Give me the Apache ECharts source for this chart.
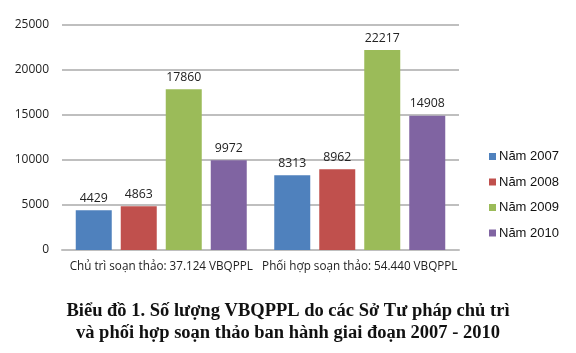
<!DOCTYPE html>
<html><head><meta charset="utf-8">
<script src="https://cdn.jsdelivr.net/npm/echarts@6/dist/echarts.min.js"></script>
<style>html,body{margin:0;padding:0;background:#fff}#c{width:576px;height:353px}</style>
</head><body><div id="c"></div>
<script>
const categories = ["Chủ trì soạn thảo: 37.124 VBQPPL", "Phối hợp soạn thảo: 54.440 VBQPPL"];
const seriesNames = ["Năm 2007", "Năm 2008", "Năm 2009", "Năm 2010"];
const v2007 = [4429, 8313];
const v2008 = [4863, 8962];
const v2009 = [17860, 22217];
const v2010 = [9972, 14908];
const yTicks = [0, 5000, 10000, 15000, 20000, 25000];
const titleLines = ["Biểu đồ 1. Số lượng VBQPPL do các Sở Tư pháp chủ trì", "và phối hợp soạn thảo ban hành giai đoạn 2007 - 2010"];

const colors = ["#4F81BD", "#C0504D", "#9BBB59", "#8064A2"];
const allValues = [v2007, v2008, v2009, v2010];
const chart = echarts.init(document.getElementById('c'));
const lbl = {show: true, position: 'top', distance: 6, color: '#222', fontFamily: 'Open Sans', fontSize: 12.3};
chart.setOption({
  animation: false,
  backgroundColor: '#fff',
  color: colors,
  title: {
    text: titleLines.join('\n'), left: 'center', top: 295,
    textStyle: {fontFamily: 'Liberation Serif', fontWeight: 'bold', fontSize: 18.5, lineHeight: 22, color: '#111'}
  },
  legend: {
    orient: 'vertical', left: 484, top: 145, itemWidth: 7, itemHeight: 7, itemGap: 12.5,
    icon: 'rect', data: seriesNames,
    textStyle: {fontFamily: 'Liberation Sans', fontSize: 13, color: '#111', padding: [0,0,0,-2]}
  },
  grid: {left: 62, right: 117, top: 25, bottom: 103},
  xAxis: {
    type: 'category', data: categories,
    axisLine: {lineStyle: {color: '#BFBFBF', width: 2}}, axisTick: {show: false},
    axisLabel: {interval: 0, hideOverlap: false, fontFamily: 'Open Sans', fontSize: 11.7, color: '#222', margin: 11}
  },
  yAxis: {
    type: 'value', min: yTicks[0], max: yTicks[yTicks.length-1], interval: 5000,
    axisLine: {show: false}, axisTick: {show: false},
    axisLabel: {formatter: v => String(v), fontFamily: 'Open Sans', fontSize: 12, color: '#222', margin: 13},
    splitLine: {lineStyle: {color: '#BFBFBF', width: 2}}
  },
  series: seriesNames.map((n, i) => ({
    name: n, type: 'bar', data: allValues[i], barWidth: 36, barGap: '25%', label: lbl
  }))
});
</script></body></html>
